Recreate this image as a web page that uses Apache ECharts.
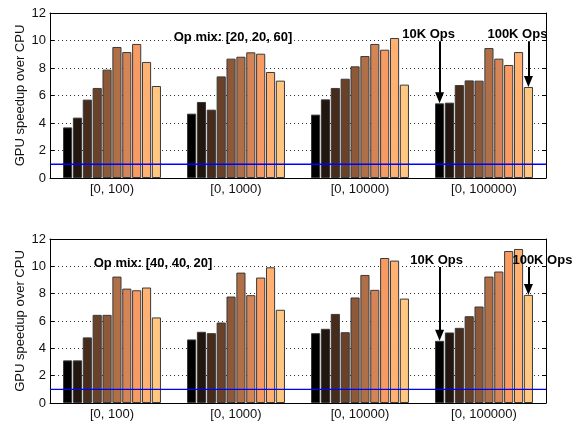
<!DOCTYPE html>
<html lang="en">
<head>
<meta charset="UTF-8">
<title>GPU speedup over CPU</title>
<script src="https://cdn.jsdelivr.net/npm/echarts@6/dist/echarts.min.js"></script>
<style>
    body { margin: 0; background: #fff; }
    #main { width: 586px; height: 422px; }
</style>
</head>
<body>
<div id="main"></div>
<script type="text/javascript">
    var ranges = ['[0, 100)', '[0, 1000)', '[0, 10000)', '[0, 100000)'];
    var yTicks = [0, 2, 4, 6, 8, 10, 12];
    var cpuBaseline = 1;

    // Op mix [20, 20, 60]: 10 bars per range
    var mixA_100    = [3.68, 4.39, 5.70, 6.55, 7.88, 9.53, 9.16, 9.75, 8.44, 6.69];
    var mixA_1000   = [4.68, 5.53, 4.97, 7.39, 8.68, 8.82, 9.14, 9.04, 7.71, 7.08];
    var mixA_10000  = [4.61, 5.72, 6.55, 7.22, 8.12, 8.87, 9.75, 9.33, 10.18, 6.79];
    var mixA_100000 = [5.43, 5.48, 6.76, 7.10, 7.08, 9.45, 8.68, 8.22, 9.16, 6.62];

    // Op mix [40, 40, 20]
    var mixB_100    = [3.12, 3.12, 4.80, 6.45, 6.45, 9.25, 8.37, 8.25, 8.45, 6.26];
    var mixB_1000   = [4.65, 5.21, 5.11, 5.89, 7.79, 9.54, 7.89, 9.18, 9.93, 6.82];
    var mixB_10000  = [5.11, 5.43, 6.52, 5.18, 7.72, 9.37, 8.28, 10.61, 10.42, 7.64];
    var mixB_100000 = [4.55, 5.16, 5.50, 6.35, 7.06, 9.25, 9.62, 11.12, 11.27, 7.91];

    // copper colormap, 10 steps
    var copper = ['#000000', '#23160e', '#472c1c', '#6a422a', '#8e5938',
                  '#b16f47', '#d58555', '#f89b63', '#ffb171', '#ffc77f'];

    var groupsA = [mixA_100, mixA_1000, mixA_10000, mixA_100000];
    var groupsB = [mixB_100, mixB_1000, mixB_10000, mixB_100000];

    var font = 'Liberation Sans, Arial, Helvetica, sans-serif';

    function makeAxes(gridIndex) {
        return {
            x: [{
                type: 'category', gridIndex: gridIndex, data: ranges, position: 'bottom',
                axisLine: { onZero: false, lineStyle: { color: '#000', width: 1 } },
                axisTick: { inside: true, alignWithLabel: true, length: 4, lineStyle: { color: '#000' } },
                axisLabel: { color: '#111', fontSize: 13, fontFamily: font, margin: 5 }
            }, {
                type: 'category', gridIndex: gridIndex, data: ranges, position: 'top',
                axisLine: { onZero: false, lineStyle: { color: '#000', width: 1 } },
                axisTick: { inside: true, alignWithLabel: true, length: 4, lineStyle: { color: '#000' } },
                axisLabel: { show: false }
            }],
            y: [{
                type: 'value', gridIndex: gridIndex, min: 0, max: 12, interval: 2, position: 'left',
                name: 'GPU speedup over CPU', nameLocation: 'middle', nameGap: 23, nameMoveOverlap: false,
                nameTextStyle: { color: '#111', fontSize: 13, fontFamily: font },
                axisLine: { show: true, onZero: false, lineStyle: { color: '#000', width: 1 } },
                axisTick: { show: true, inside: true, length: 4, lineStyle: { color: '#000' } },
                axisLabel: { color: '#111', fontSize: 13, fontFamily: font, margin: 4 },
                splitLine: { show: true, lineStyle: { color: '#333', type: [1, 3], width: 1 } }
            }, {
                type: 'value', gridIndex: gridIndex, min: 0, max: 12, interval: 2, position: 'right',
                axisLine: { show: true, onZero: false, lineStyle: { color: '#000', width: 1 } },
                axisTick: { show: true, inside: true, length: 4, lineStyle: { color: '#000' } },
                axisLabel: { show: false },
                splitLine: { show: false }
            }]
        };
    }

    function arrow(from, to) {
        return [
            { coord: [3, from], symbol: 'none' },
            { coord: [3, to + 0.4], symbol: 'triangle', symbolSize: [9, 11] }
        ];
    }

    function textMark(name, y, dx) {
        return {
            name: name, coord: [3, y], symbolSize: 0,
            label: { show: true, formatter: '{b}', offset: [dx, 0], color: '#000',
                     fontSize: 13, fontWeight: 'bold', fontFamily: font }
        };
    }

    function makeBars(groups, axisBase, ann) {
        var list = [];
        for (var i = 0; i < 10; i++) {
            var s = {
                type: 'bar',
                xAxisIndex: axisBase, yAxisIndex: axisBase,
                data: groups.map(function (g) { return g[i]; }),
                barCategoryGap: '21%', barGap: '8%',
                itemStyle: { color: copper[i], borderColor: '#3a3a3a', borderWidth: 1 },
                emphasis: { disabled: true },
                silent: true
            };
            if (i === 0 || i === 9) {
                s.markLine = {
                    silent: true, symbol: ['none', 'none'], label: { show: false }, animation: false,
                    lineStyle: { color: '#000', width: 2, type: 'solid' },
                    data: [arrow(ann.start, groups[3][i])]
                };
                s.markPoint = { silent: true, data: [textMark(i === 0 ? '10K Ops' : '100K Ops', ann.textY, i === 0 ? ann.dx10 : ann.dx100)] };
            }
            list.push(s);
        }
        // CPU baseline across the full width, on a hidden value x axis
        list.push({
            type: 'line', xAxisIndex: 4 + axisBase / 2, yAxisIndex: axisBase,
            data: [[0, cpuBaseline], [1, cpuBaseline]],
            symbol: 'none', silent: true, z: 5,
            lineStyle: { color: '#0000ff', width: 1.3 }
        });
        return list;
    }

    var axesA = makeAxes(0);
    var axesB = makeAxes(1);
    var hiddenX = [
        { type: 'value', gridIndex: 0, min: 0, max: 1, show: false },
        { type: 'value', gridIndex: 1, min: 0, max: 1, show: false }
    ];

    var myChart = echarts.init(document.getElementById('main'));
    var option = {
        animation: false,
        backgroundColor: '#fff',
        title: [{
            text: 'Op mix: [20, 20, 60]', left: 228, top: 26, textAlign: 'center',
            textStyle: { fontSize: 13, fontWeight: 'bold', color: '#000', fontFamily: font }
        }, {
            text: 'Op mix: [40, 40, 20]', left: 148, top: 252, textAlign: 'center',
            textStyle: { fontSize: 13, fontWeight: 'bold', color: '#000', fontFamily: font }
        }],
        grid: [
            { left: 50, top: 13, width: 496, height: 165 },
            { left: 50, top: 239, width: 496, height: 164 }
        ],
        xAxis: axesA.x.concat(axesB.x, hiddenX),
        yAxis: axesA.y.concat(axesB.y),
        series: makeBars(groupsA, 0, { start: 9.95, textY: 10.45, dx10: -11, dx100: -11 })
            .concat(makeBars(groupsB, 2, { start: 9.95, textY: 10.4, dx10: -3, dx100: 14 }))
    };
    myChart.setOption(option);
</script>
</body>
</html>
